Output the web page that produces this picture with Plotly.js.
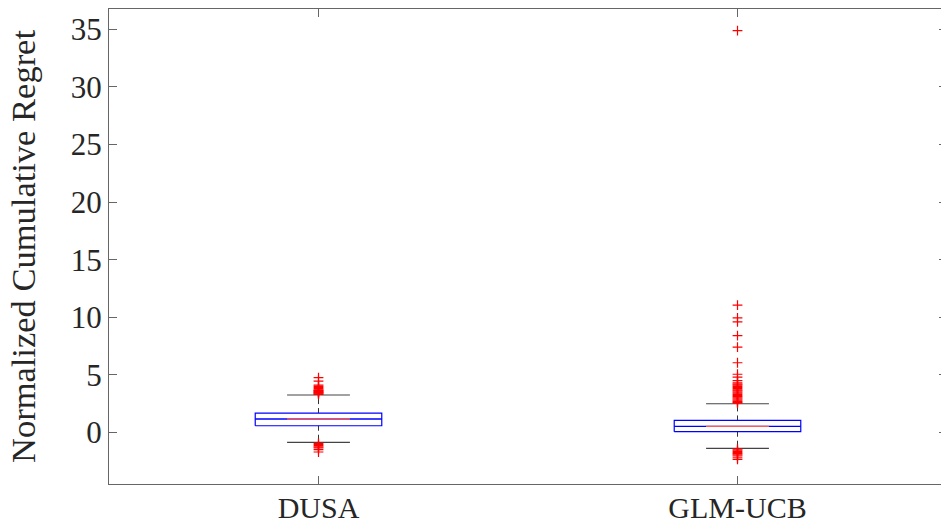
<!DOCTYPE html>
<html>
<head>
<meta charset="utf-8">
<script src="https://cdn.plot.ly/plotly-3.0.1.min.js"></script>
<style>html,body{margin:0;padding:0;background:#fff;overflow:hidden;width:941px;height:526px;}#chart{width:947px;height:526px;}</style>
</head>
<body>
<div id="chart"></div>
<script>
// ---- data ----
var categories = ["DUSA", "GLM-UCB"];
var q1 = [0.58, 0.06];
var medians = [1.16, 0.52];
var q3 = [1.68, 1.04];
var lowerWhisker = [-0.87, -1.39];
var upperWhisker = [3.25, 2.49];
var outliersDUSA = [3.3, 3.35, 3.4, 3.45, 3.5, 3.55, 3.6, 3.65, 3.7, 3.8, 3.9, 4.0, 4.1, 4.45, 4.75,
                    -0.95, -1.05, -1.15, -1.25, -1.35, -1.5, -1.7];
var outliersGLM = [2.55, 2.6, 2.7, 2.8, 2.9, 3.0, 3.1, 3.2, 3.3, 3.4, 3.5, 3.6, 3.7, 3.8, 3.9, 4.0,
                   4.1, 4.2, 4.3, 4.5, 4.8, 5.05, 6.05, 7.4, 8.4, 9.6, 9.95, 11.05, 34.9,
                   -1.45, -1.55, -1.65, -1.75, -1.85, -1.95, -2.05, -2.2, -2.35];
var outliers = [outliersDUSA, outliersGLM];
var yTicks = [0, 5, 10, 15, 20, 25, 30, 35];

// ---- styling ----
var FONT = "Liberation Serif, Times New Roman, serif";
var boxHalf = 0.151, capHalf = 0.075, medHalf = 0.075;
var traces = [];
categories.forEach(function (c, i) {
  var x = i + 1;
  // whiskers (dashed black)
  traces.push({x: [x, x, null, x, x], y: [q3[i], upperWhisker[i], null, q1[i], lowerWhisker[i]],
    mode: "lines", line: {color: "#333", width: 1, dash: "5px,4px"}, hoverinfo: "skip", showlegend: false});
  // caps
  traces.push({x: [x - capHalf, x + capHalf, null, x - capHalf, x + capHalf],
    y: [upperWhisker[i], upperWhisker[i], null, lowerWhisker[i], lowerWhisker[i]],
    mode: "lines", line: {color: "#444", width: 1.2}, hoverinfo: "skip", showlegend: false});
  // box
  traces.push({x: [x - boxHalf, x + boxHalf, x + boxHalf, x - boxHalf, x - boxHalf],
    y: [q1[i], q1[i], q3[i], q3[i], q1[i]], mode: "lines",
    line: {color: "#0000ff", width: 1.2}, hoverinfo: "skip", showlegend: false});
  // median: blue full width, red in the middle
  traces.push({x: [x - boxHalf, x + boxHalf], y: [medians[i], medians[i]], mode: "lines",
    line: {color: "#0000ff", width: 1.4}, hoverinfo: "skip", showlegend: false});
  traces.push({x: [x - medHalf, x + medHalf], y: [medians[i], medians[i]], mode: "lines",
    line: {color: "#ff5a5a", width: 1.4}, hoverinfo: "skip", showlegend: false});
  // outliers
  traces.push({x: outliers[i].map(function () { return x; }), y: outliers[i], mode: "markers",
    marker: {symbol: "cross-thin", size: 7, line: {color: "#ff0000", width: 1.2}},
    name: c, showlegend: false});
});

var layout = {
  width: 947, height: 526,
  margin: {l: 109, r: 0, t: 9, b: 42, pad: 0},
  paper_bgcolor: "#ffffff", plot_bgcolor: "#ffffff",
  font: {family: FONT, color: "#262626", size: 31},
  showlegend: false,
  xaxis: {
    range: [0.5, 2.5], tickmode: "array",
    tickvals: categories.map(function (c, i) { return i + 1; }), ticktext: categories,
    showgrid: false, zeroline: false, showline: true, linecolor: "#666", linewidth: 1,
    mirror: "ticks", ticks: "inside", ticklen: 8, tickcolor: "#666", tickwidth: 1,
    ticklabelstandoff: -3,
    tickfont: {family: FONT, size: 30, color: "#262626"}, fixedrange: true
  },
  yaxis: {
    range: [-4.48, 36.77], tickmode: "array", tickvals: yTicks,
    ticktext: yTicks.map(String),
    showgrid: false, zeroline: false, showline: true, linecolor: "#666", linewidth: 1,
    mirror: "ticks", ticks: "inside", ticklen: 8, tickcolor: "#666", tickwidth: 1,
    tickfont: {family: FONT, size: 31, color: "#262626"},
    title: {text: "Normalized Cumulative Regret", font: {family: FONT, size: 34.5, color: "#262626"}, standoff: 24},
    fixedrange: true
  }
};
Plotly.newPlot("chart", traces, layout, {displayModeBar: false, staticPlot: true});
</script>
</body>
</html>
